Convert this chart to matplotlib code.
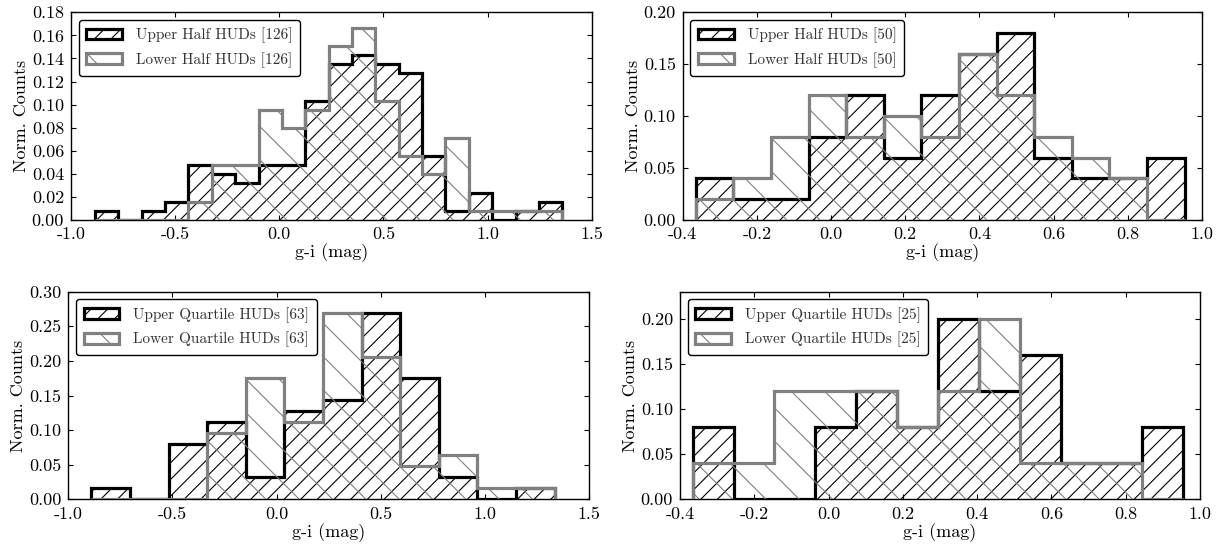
import numpy as np
import matplotlib
matplotlib.use("Agg")
import matplotlib.pyplot as plt

plt.rcParams.update({
    "font.family": "serif",
    "font.serif": ["cmr10"],
    "mathtext.fontset": "cm",
    "axes.formatter.use_mathtext": True,
    "font.size": 13,
    "axes.linewidth": 1.0,
    "hatch.linewidth": 0.8,
})

# --- g-i colour histograms (normalised counts per bin) ---------------------
# Top-left: halves of the full sample (126 each)
tl_edges = (-0.885, 1.359, 20)
tl_upper = [0.0079, 0.0, 0.0079, 0.0159, 0.0476, 0.0397, 0.0317, 0.0476, 0.0476, 0.1032,
            0.1349, 0.1429, 0.1349, 0.1270, 0.0556, 0.0079, 0.0238, 0.0, 0.0079, 0.0159]
tl_lower = [0.0, 0.0, 0.0, 0.0, 0.0159, 0.0476, 0.0476, 0.0952, 0.0794, 0.0952,
            0.1508, 0.1667, 0.1032, 0.0556, 0.0397, 0.0714, 0.0079, 0.0079, 0.0079, 0.0079]

# Top-right: halves of the sub-sample (50 each)
tr_edges = (-0.365, 0.953, 13)
tr_upper = [0.04, 0.02, 0.02, 0.08, 0.12, 0.06, 0.12, 0.16, 0.18, 0.06, 0.04, 0.04, 0.06]
tr_lower = [0.02, 0.04, 0.08, 0.12, 0.08, 0.10, 0.08, 0.16, 0.12, 0.08, 0.06, 0.04, 0.0]

# Bottom-left: quartiles of the full sample (63 each)
bl_edges = (-0.889, 1.335, 12)
bl_upper = [0.0159, 0.0, 0.0794, 0.1111, 0.0317, 0.1270, 0.1429, 0.2698, 0.1746, 0.0317, 0.0, 0.0159]
bl_lower = [0.0, 0.0, 0.0, 0.0952, 0.1746, 0.1111, 0.2698, 0.2063, 0.0476, 0.0635, 0.0159, 0.0159]

# Bottom-right: quartiles of the sub-sample (25 each)
br_edges = (-0.366, 0.955, 12)
br_upper = [0.08, 0.0, 0.0, 0.08, 0.12, 0.08, 0.20, 0.12, 0.16, 0.04, 0.04, 0.08]
br_lower = [0.04, 0.04, 0.12, 0.12, 0.12, 0.08, 0.12, 0.20, 0.04, 0.04, 0.04, 0.0]

labels = {
    "tl": ("Upper Half HUDs [126]", "Lower Half HUDs [126]"),
    "tr": ("Upper Half HUDs [50]", "Lower Half HUDs [50]"),
    "bl": ("Upper Quartile HUDs [63]", "Lower Quartile HUDs [63]"),
    "br": ("Upper Quartile HUDs [25]", "Lower Quartile HUDs [25]"),
}

xlims = {"tl": (-1.0, 1.5), "tr": (-0.4, 1.0), "bl": (-1.0, 1.5), "br": (-0.4, 1.0)}
ylims = {"tl": (0, 0.18), "tr": (0, 0.20), "bl": (0, 0.30), "br": (0, 0.23)}
xticks = {"tl": [-1.0, -0.5, 0.0, 0.5, 1.0, 1.5],
          "tr": [-0.4, -0.2, 0.0, 0.2, 0.4, 0.6, 0.8, 1.0],
          "bl": [-1.0, -0.5, 0.0, 0.5, 1.0, 1.5],
          "br": [-0.4, -0.2, 0.0, 0.2, 0.4, 0.6, 0.8, 1.0]}
yticks = {"tl": np.arange(0, 0.181, 0.02),
          "tr": np.arange(0, 0.201, 0.05),
          "bl": np.arange(0, 0.301, 0.05),
          "br": np.arange(0, 0.201, 0.05)}

panels = {
    "tl": (tl_edges, tl_upper, tl_lower),
    "tr": (tr_edges, tr_upper, tr_lower),
    "bl": (bl_edges, bl_upper, bl_lower),
    "br": (br_edges, br_upper, br_lower),
}

W, H = 1226, 552
boxes = {
    "tl": (71, 12.3, 591.7, 220.0),
    "tr": (682.7, 12.3, 1202.0, 220.0),
    "bl": (68.3, 291.7, 589.0, 499.3),
    "br": (680.0, 291.7, 1200.0, 499.3),
}

fig = plt.figure(figsize=(W / 100, H / 100), dpi=100)
GRAY = "#808080"

for key, (edge_spec, upper, lower) in panels.items():
    x0, y0, x1, y1 = boxes[key]
    ax = fig.add_axes([x0 / W, 1 - y1 / H, (x1 - x0) / W, (y1 - y0) / H])
    lo, hi, n = edge_spec
    edges = np.linspace(lo, hi, n + 1)

    ax.stairs(upper, edges, fill=False, hatch="//", edgecolor="black",
              linewidth=2.3, label=labels[key][0], zorder=2)
    ax.stairs(lower, edges, fill=False, hatch="\\", edgecolor=GRAY,
              linewidth=2.3, label=labels[key][1], zorder=3)

    ax.set_xlim(*xlims[key])
    ax.set_ylim(*ylims[key])
    ax.set_xticks(xticks[key])
    ax.set_yticks(yticks[key])
    ax.xaxis.set_major_formatter(matplotlib.ticker.FormatStrFormatter("%.1f"))
    ax.yaxis.set_major_formatter(matplotlib.ticker.FormatStrFormatter("%.2f"))
    ax.tick_params(direction="in", top=True, right=True, length=3.5,
                   width=0.8, labelsize=13, pad=5)
    ax.set_xlabel("g-i (mag)", fontsize=13, labelpad=1)
    ax.set_ylabel("Norm. Counts", fontsize=13, labelpad=2)

    leg = ax.legend(loc="upper left", fontsize=11, fancybox=True,
                    framealpha=1.0, borderaxespad=0.5, handlelength=2.35,
                    handletextpad=0.9, labelspacing=0.6, borderpad=0.5)
    for txt in leg.get_texts():
        txt.set_color("#333333")
    leg.get_frame().set_edgecolor("black")
    leg.get_frame().set_linewidth(1.0)

fig.savefig("out.png", dpi=100)
